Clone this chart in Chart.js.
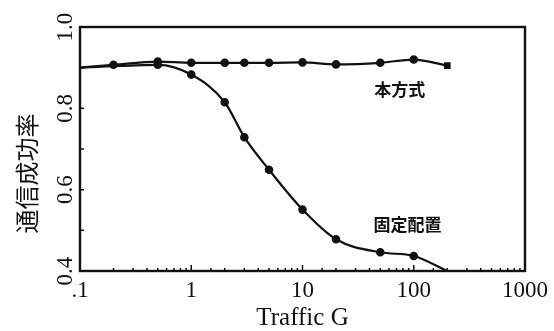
<!DOCTYPE html>
<html lang="ja">
<head>
<meta charset="UTF-8">
<title>通信成功率</title>
<script src="https://cdn.jsdelivr.net/npm/chart.js"></script>
<style>
    html, body { margin: 0; padding: 0; background: #fff; }
    #wrap { width: 554px; height: 331px; }
</style>
</head>
<body>
<div id="wrap"><canvas id="successChart"></canvas></div>
<script>
    // 本方式 (proposed method)
    const trafficOwn = [0.1, 0.2, 0.5, 1, 2, 3, 5, 10, 20, 50, 100, 200];
    const rateOwn = [0.900, 0.907, 0.915, 0.912, 0.912, 0.912, 0.912, 0.913, 0.908, 0.912, 0.920, 0.905];
    // 固定配置 (fixed allocation)
    const trafficFixed = [0.1, 0.5, 1, 2, 3, 5, 10, 20, 50, 100, 200];
    const rateFixed = [0.900, 0.907, 0.883, 0.815, 0.729, 0.649, 0.551, 0.478, 0.446, 0.437, 0.400];

    const xTickValues = [0.1, 1, 10, 100, 1000];
    const xTickLabels = ['.1', '1', '10', '100', '1000'];
    const yTickValues = [0.4, 0.6, 0.8, 1.0];
    const yTickLabels = ['0.4', '0.6', '0.8', '1.0'];

    const yTitle = '通信成功率';
    const noteText = ['本方式', '固定配置'];
    const noteX = [75, 88];
    const noteY = [0.845, 0.513];

    const ink = '#111';
    const serif = '"Liberation Serif", "DejaVu Serif", serif';
    const cjk = '"Noto Sans CJK JP", "Noto Sans CJK SC", sans-serif';

    function findLabel(values, labels, v) {
        const i = values.findIndex(tv => Math.abs(tv - v) < 1e-6 * Math.max(1, tv));
        return i < 0 ? '' : labels[i];
    }

    // ticks pointing inward, the box, the y title and the two curve names
    const frameAndNotes = {
        id: 'frameAndNotes',
        afterDraw(chart) {
            const {ctx, chartArea: a, scales: {x, y}} = chart;
            ctx.save();
            ctx.strokeStyle = ink;
            ctx.lineWidth = 1.5;
            ctx.beginPath();
            x.ticks.forEach(t => {
                const px = x.getPixelForValue(t.value);
                const len = findLabel(xTickValues, xTickLabels, t.value) ? 6 : 3;
                ctx.moveTo(px, a.bottom);
                ctx.lineTo(px, a.bottom - len);
            });
            y.ticks.forEach(t => {
                const py = y.getPixelForValue(t.value);
                ctx.moveTo(a.left, py);
                ctx.lineTo(a.left + 4, py);
            });
            ctx.stroke();

            ctx.lineWidth = 2.4;
            ctx.strokeRect(a.left, a.top, a.right - a.left, a.bottom - a.top);

            ctx.fillStyle = ink;
            ctx.textAlign = 'center';
            ctx.textBaseline = 'middle';

            // y title sits a little below the middle of the axis
            ctx.save();
            ctx.font = '24px ' + cjk;
            ctx.translate(y.left + 27, y.getPixelForValue(0.64));
            ctx.rotate(-Math.PI / 2);
            ctx.fillText(yTitle, 0, 0);
            ctx.restore();

            ctx.font = 'bold 17px ' + cjk;
            noteText.forEach((s, i) => {
                ctx.fillText(s, x.getPixelForValue(noteX[i]), y.getPixelForValue(noteY[i]));
            });
            ctx.restore();
        }
    };

    const ctx = document.getElementById('successChart').getContext('2d');
    new Chart(ctx, {
        type: 'line',
        data: {
            datasets: [
                {
                    label: '本方式',
                    data: trafficOwn.map((g, i) => ({x: g, y: rateOwn[i]})),
                    borderColor: ink,
                    backgroundColor: ink,
                    borderWidth: 2.2,
                    pointRadius: trafficOwn.map((g, i) => i === 0 ? 0 : 3.2),
                    pointStyle: trafficOwn.map((g, i) => i === trafficOwn.length - 1 ? 'rect' : 'circle'),
                    cubicInterpolationMode: 'monotone',
                    fill: false
                },
                {
                    label: '固定配置',
                    data: trafficFixed.map((g, i) => ({x: g, y: rateFixed[i]})),
                    borderColor: ink,
                    backgroundColor: ink,
                    borderWidth: 2.2,
                    pointRadius: trafficFixed.map((g, i) => (i === 0 || i === trafficFixed.length - 1) ? 0 : 3.2),
                    cubicInterpolationMode: 'monotone',
                    fill: false
                }
            ]
        },
        options: {
            responsive: true,
            maintainAspectRatio: false,
            animation: false,
            layout: {
                padding: {top: 27, right: 25, left: 0, bottom: 0}
            },
            plugins: {
                legend: {display: false},
                tooltip: {enabled: false}
            },
            scales: {
                x: {
                    type: 'logarithmic',
                    min: 0.1,
                    max: 1000,
                    grid: {display: false, drawTicks: false},
                    border: {display: false},
                    afterFit: s => { s.height = 60; },
                    ticks: {
                        autoSkip: false,
                        maxRotation: 0,
                        padding: 6,
                        color: ink,
                        font: {family: serif, size: 23},
                        callback: v => findLabel(xTickValues, xTickLabels, v)
                    },
                    title: {
                        display: true,
                        text: 'Traffic G',
                        color: ink,
                        font: {family: serif, size: 25},
                        padding: {top: 0, bottom: -2}
                    }
                },
                y: {
                    min: 0.4,
                    max: 1.0,
                    grid: {display: false, drawTicks: false},
                    border: {display: false},
                    afterFit: s => { s.width = 80; },
                    ticks: {
                        stepSize: 0.1,
                        autoSkip: false,
                        minRotation: 90,
                        maxRotation: 90,
                        crossAlign: 'center',
                        padding: 0,
                        color: ink,
                        font: {family: serif, size: 23},
                        callback: v => findLabel(yTickValues, yTickLabels, v)
                    }
                }
            }
        },
        plugins: [frameAndNotes]
    });
</script>
</body>
</html>
